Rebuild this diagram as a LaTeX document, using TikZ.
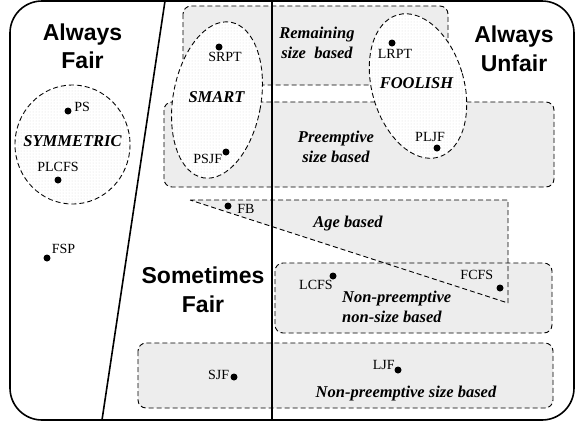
\documentclass[tikz,border=0pt]{standalone}
\usepackage{fontspec}
\setmainfont{Liberation Serif}
\setsansfont{Liberation Sans}
\usetikzlibrary{positioning,patterns}

\begin{document}
\begin{tikzpicture}[
    x=1pt, y=-1pt,
    dot/.style={circle, fill=black, inner sep=0pt, minimum size=7pt},
    lbl/.style={inner sep=0pt, font=\fontsize{14}{16}\selectfont},
    cls/.style={inner sep=0pt, align=center,
                font=\fontsize{16.5}{20}\selectfont\bfseries\itshape},
    fairness/.style={inner sep=0pt, align=center,
                font=\fontsize{23}{28.5}\selectfont\sffamily\bfseries},
    region/.style={draw, dash pattern=on 5pt off 3pt, line width=0.9pt,
                fill=gray!14, rounded corners=8pt},
    group/.style={draw, dash pattern=on 5pt off 3pt, line width=0.9pt,
                fill=white, postaction={pattern=dots, pattern color=gray!28}},
    divider/.style={line width=1.6pt},
]
    \useasboundingbox (0,0) rectangle (576,424);

    % Policy classes
    \draw[region] (183,6) rectangle (448,85);
    \draw[region] (164,102) rectangle (554,187);
    \path[region, draw=none, sharp corners] (190,200) -- (508,200) -- (508,303) -- cycle;
    \draw[region] (275,263) rectangle (552,333);
    \draw[region, fill=none, sharp corners] (190,200) -- (508,200) -- (508,303) -- cycle;
    \draw[region] (138,343) rectangle (553,408);

    % Groups
    \draw[group] (72.5,144.5) ellipse [x radius=57.5, y radius=59.5];
    \draw[group, rotate around={-10:(217,100)}] (217,100) ellipse [x radius=44, y radius=79];
    \draw[group, rotate around={16:(418,86)}] (418,86) ellipse [x radius=46, y radius=74];

    % Fairness frame
    \draw[divider, rounded corners=32pt] (10,1) rectangle (574,420);
    \draw[divider] (165,1) -- (102,420);
    \draw[divider] (271.7,1) -- (271.7,420);

    % Headings
    \node[fairness] (fair) at (82.5,46.5) {Always\\Fair};
    \node[fairness] (unfair) at (514,49) {Always\\Unfair};
    \node[fairness] (sometimes) at (203,290) {Sometimes\\Fair};

    % Class names
    \node[cls] (remaining) at (317,43) {Remaining\\size\ \ based};
    \node[cls] (preemptive) at (336,146.5) {Preemptive\\size based};
    \node[cls] (age) at (348,224) {Age based};
    \node[cls, align=left, anchor=west] (nonsize) at (342,307) {Non-preemptive\\non-size based};
    \node[cls] (nonpre) at (406,394) {Non-preemptive size based};
    \node[cls] (symmetric) at (72.5,141.5) {SYMMETRIC};
    \node[cls] (smart) at (216.5,97.5) {SMART};
    \node[cls] (foolish) at (416.5,83.5) {FOOLISH};

    % Policies
    \node[dot] (ps) at (68,111) {};
    \node[lbl, above right=-3.5pt and 3.5pt of ps] {PS};
    \node[dot] (plcfs) at (58,180) {};
    \node[lbl, above=4pt of plcfs] {PLCFS};
    \node[dot] (fsp) at (47,258) {};
    \node[lbl, above right=2pt and 2pt of fsp] {FSP};
    \node[dot] (srpt) at (219,47) {};
    \node[lbl, below=1.5pt of srpt, xshift=6pt] {SRPT};
    \node[dot] (psjf) at (226,152) {};
    \node[lbl, below left=-1pt and 1pt of psjf] {PSJF};
    \node[dot] (lrpt) at (392,43) {};
    \node[lbl, below=2.5pt of lrpt, xshift=3pt] {LRPT};
    \node[dot] (pljf) at (437,148) {};
    \node[lbl, above=2.5pt of pljf, xshift=-7pt] {PLJF};
    \node[dot] (fb) at (228,206) {};
    \node[lbl, right=5.5pt of fb, yshift=-3pt] {FB};
    \node[dot] (lcfs) at (333,276) {};
    \node[lbl, below left=1.5pt and -2.5pt of lcfs] {LCFS};
    \node[dot] (fcfs) at (500,288) {};
    \node[lbl, above left=6pt and 4pt of fcfs] {FCFS};
    \node[dot] (sjf) at (234,377) {};
    \node[lbl, left=1pt of sjf, yshift=2pt] {SJF};
    \node[dot] (ljf) at (398,370) {};
    \node[lbl, above left=-2.5pt and 0.5pt of ljf] {LJF};
\end{tikzpicture}
\end{document}
